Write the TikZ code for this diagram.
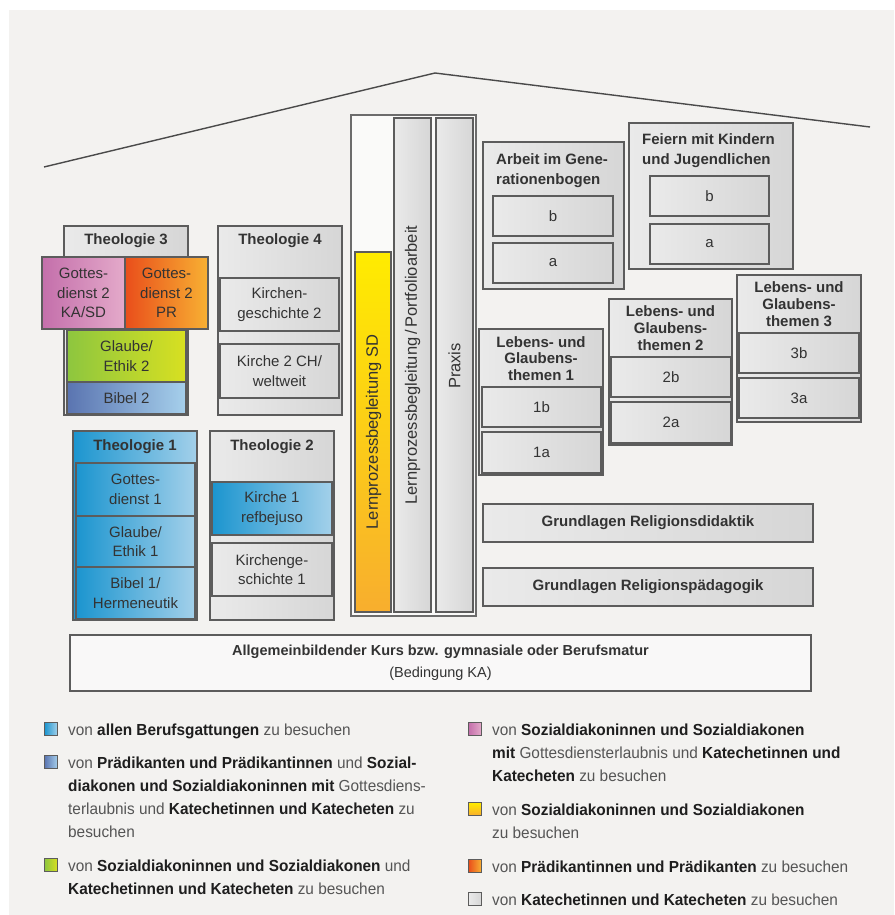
\documentclass[tikz,border=0pt]{standalone}
\usepackage{fontspec}
\setmainfont{Liberation Sans}
\newfontfamily\lgfam{Liberation Sans}[FakeStretch=0.96]
\definecolor{bg}{HTML}{F3F2F0}
\definecolor{bdr}{HTML}{5C5C5C}
\definecolor{txt}{HTML}{333333}
\definecolor{grayL}{HTML}{EAEAEA}
\definecolor{grayR}{HTML}{D6D6D6}
\definecolor{blueL}{HTML}{1B95CF}
\definecolor{blueR}{HTML}{A3D0EA}
\definecolor{bibL}{HTML}{5A74B0}
\definecolor{bibR}{HTML}{A6D0EC}
\definecolor{grnL}{HTML}{8DC63F}
\definecolor{grnR}{HTML}{D8E021}
\definecolor{pinkL}{HTML}{C46FAB}
\definecolor{pinkR}{HTML}{E4AACA}
\definecolor{orL}{HTML}{E94E1B}
\definecolor{orR}{HTML}{F8B133}
\definecolor{yeT}{HTML}{FFEC00}
\definecolor{yeB}{HTML}{F8AE2E}
\definecolor{lgdark}{HTML}{1E1E1E}
\definecolor{lggray}{HTML}{555555}
\newcommand\bxfont{\fontsize{15}{19.5}\selectfont}
\newcommand\ttlfont{\fontsize{15}{20}\selectfont\bfseries}
\newcommand\lugfont{\fontsize{15}{16.7}\selectfont\bfseries}
\newcommand\rotfont{\fontsize{16.5}{20}\selectfont}
\newcommand\lgfont{\lgfam\fontsize{16}{23.3}\selectfont}
\newcommand\bt[1]{{\color{lgdark}\bfseries #1}}
% box node from its corners: [options]{name}{x1}{y1}{x2}{y2}{text}
\newcommand\bx[7][]{%
  \pgfmathsetmacro\bxcx{(#3+#5)/2}\pgfmathsetmacro\bxcy{(#4+#6)/2}%
  \pgfmathsetmacro\bxw{#5-#3}\pgfmathsetmacro\bxh{#6-#4}%
  \node[#1, minimum width=\bxw pt, minimum height=\bxh pt] (#2) at (\bxcx,\bxcy) {#7};}
\begin{document}
\begin{tikzpicture}[x=1pt,y=-1pt,
  box/.style={draw=bdr, line width=1.3pt, inner sep=0pt, align=center, font=\bxfont, text=txt},
  gbox/.style={box, left color=grayL, right color=grayR},
  bbox/.style={box, left color=blueL, right color=blueR},
  ttl/.style={inner sep=0pt, align=center, font=\ttlfont, text=txt},
  lug/.style={inner sep=0pt, align=center, font=\lugfont, text=txt},
  rot/.style={inner sep=0pt, rotate=90, font=\rotfont, text=txt},
  lgsq/.style={draw=bdr, line width=1pt, minimum size=13pt, inner sep=0pt},
  lgtxt/.style={inner sep=0pt, anchor=base west, font=\lgfont, text=lggray}]
\useasboundingbox (0,0) rectangle (894,915);
\fill[white] (0,0) rectangle (894,915);
\fill[bg] (9,10) rectangle (894,915);
% roof
\coordinate (rl) at (44,167);
\coordinate (rp) at (435,73);
\coordinate (rr) at (870,127);
\draw[bdr!80!black, line width=1.4pt] (rl) -- (rp) -- (rr);
% Theologie 3
\bx[gbox]{th3}{64}{226}{188}{415}{}
\node[ttl] (th3t) at (126,241) {Theologie 3};
\bx[box, left color=pinkL, right color=pinkR]{gd2ka}{42}{257}{125}{329}{Gottes-\\dienst 2\\KA/SD}
\bx[box, left color=orL, right color=orR]{gd2pr}{125}{257}{208}{329}{Gottes-\\dienst 2\\PR}
\bx[box, left color=grnL, right color=grnR]{ge2}{67}{330}{186}{382}{Glaube/\\Ethik 2}
\bx[box, left color=bibL, right color=bibR]{bi2}{67}{382}{186}{414}{Bibel 2}
% Theologie 4
\bx[gbox]{th4}{218}{226}{342}{415}{}
\node[ttl] (th4t) at (280,241) {Theologie 4};
\bx[gbox]{kg2}{220}{278}{339}{331}{Kirchen-\\geschichte 2}
\bx[gbox]{k2ch}{220}{344}{339}{398}{Kirche 2 CH/\\weltweit}
% Theologie 1
\bx[bbox]{th1}{73}{431}{197}{620}{}
\node[ttl] (th1t) at (135,447) {Theologie 1};
\bx[bbox]{gd1}{76}{463}{195}{516}{Gottes-\\dienst 1}
\bx[bbox]{ge1}{76}{516}{195}{567}{Glaube/\\Ethik 1}
\bx[bbox]{bi1}{76}{567}{195}{619}{Bibel 1/\\Hermeneutik}
% Theologie 2
\bx[gbox]{th2}{210}{431}{334}{620}{}
\node[ttl] (th2t) at (272,447) {Theologie 2};
\bx[bbox]{k1}{212}{482}{332}{535}{Kirche 1\\refbejuso}
\bx[gbox]{kg1}{212}{543}{332}{596}{Kirchenge-\\schichte 1}
% columns
\bx[draw=bdr!90, line width=1.2pt, fill=white!60!bg, inner sep=0pt]{cols}{351}{115}{476}{616}{}
\bx[box, top color=yeT, bottom color=yeB]{lpsd}{355}{252}{391}{612}{}
\bx[gbox]{lpb}{394}{118}{431}{612}{}
\bx[gbox]{prx}{436}{118}{473}{612}{}
\node[rot] (lpsdt) at (373.5,432) {Lernprozessbegleitung SD};
\node[rot] (lpbt) at (412.5,365) {Lernprozessbegleitung\,/\,Portfolioarbeit};
\node[rot] (prxt) at (454.5,366) {Praxis};
% Arbeit im Generationenbogen
\bx[gbox]{aig}{483}{142}{624}{289}{}
\node[ttl, align=left, anchor=west] (aigt) at (496,171) {Arbeit im Gene-\\rationenbogen};
\bx[gbox]{aigb}{493}{196}{613}{236}{b}
\bx[gbox]{aiga}{493}{243}{613}{283}{a}
% Feiern
\bx[gbox]{fei}{629}{123}{793}{269}{}
\node[ttl, align=left, anchor=west] (feit) at (642,151) {Feiern mit Kindern\\und Jugendlichen};
\bx[gbox]{feib}{650}{176}{769}{216}{b}
\bx[gbox]{feia}{650}{224}{769}{264}{a}
% Lebens- und Glaubensthemen
\bx[gbox]{lg1}{479}{329}{603}{475}{}
\node[lug] (lg1t) at (541,358.5) {Lebens- und\\Glaubens-\\themen 1};
\bx[gbox]{lg1b}{482}{387}{601}{427}{1b}
\bx[gbox]{lg1a}{482}{432}{601}{473}{1a}
\bx[gbox]{lg2}{609}{299}{732}{445}{}
\node[lug] (lg2t) at (670.5,328) {Lebens- und\\Glaubens-\\themen 2};
\bx[gbox]{lg2b}{611}{357}{731}{397}{2b}
\bx[gbox]{lg2a}{611}{402}{731}{443}{2a}
\bx[gbox]{lg3}{737}{275}{861}{422}{}
\node[lug] (lg3t) at (799,304) {Lebens- und\\Glaubens-\\themen 3};
\bx[gbox]{lg3b}{739}{333}{859}{373}{3b}
\bx[gbox]{lg3a}{739}{378}{859}{418}{3a}
% Grundlagen
\bx[gbox, font=\ttlfont]{grd}{483}{504}{813}{542}{Grundlagen Religionsdidaktik}
\bx[gbox, font=\ttlfont]{grp}{483}{568}{813}{606}{Grundlagen Religionspädagogik}
% Allgemeinbildender Kurs
\bx[draw=bdr, line width=1.3pt, fill=white!50!bg, inner sep=0pt]{allg}{70}{635}{811}{691}{}
\node[inner sep=0pt, align=center, text=txt, font=\fontsize{14.5}{22}\selectfont] (allgt) at (440.5,663) {\textbf{Allgemeinbildender Kurs bzw. gymnasiale oder Berufsmatur}\\(Bedingung KA)};
% legend left
\node[lgsq, left color=blueL, right color=blueR] (s1) at (51,729) {};
\node[lgtxt] (t1) at (68,735) {\parbox[t]{380pt}{\raggedright von \bt{allen Berufsgattungen} zu besuchen}};
\node[lgsq, left color=bibL, right color=bibR] (s2) at (51,762) {};
\node[lgtxt] (t2) at (68,768) {\parbox[t]{380pt}{\raggedright von \bt{Prädikanten und Prädikantinnen} und \bt{Sozial-}\\\bt{diakonen und Sozialdiakoninnen mit} Gottesdiens-\\terlaubnis und \bt{Katechetinnen und Katecheten} zu\\besuchen}};
\node[lgsq, left color=grnL, right color=grnR] (s3) at (51,865) {};
\node[lgtxt] (t3) at (68,871) {\parbox[t]{380pt}{\raggedright von \bt{Sozialdiakoninnen und Sozialdiakonen} und\\\bt{Katechetinnen und Katecheten} zu besuchen}};
% legend right
\node[lgsq, left color=pinkL, right color=pinkR] (s4) at (475,729) {};
\node[lgtxt] (t4) at (492,735) {\parbox[t]{380pt}{\raggedright von \bt{Sozialdiakoninnen und Sozialdiakonen}\\\bt{mit} Gottesdiensterlaubnis und \bt{Katechetinnen und}\\\bt{Katecheten} zu besuchen}};
\node[lgsq, top color=yeT, bottom color=yeB] (s5) at (475,809) {};
\node[lgtxt] (t5) at (492,815) {\parbox[t]{380pt}{\raggedright von \bt{Sozialdiakoninnen und Sozialdiakonen}\\zu besuchen}};
\node[lgsq, left color=orL, right color=orR] (s6) at (475,866) {};
\node[lgtxt] (t6) at (492,872) {\parbox[t]{380pt}{\raggedright von \bt{Prädikantinnen und Prädikanten} zu besuchen}};
\node[lgsq, left color=grayL, right color=grayR] (s7) at (475,899) {};
\node[lgtxt] (t7) at (492,905) {\parbox[t]{380pt}{\raggedright von \bt{Katechetinnen und Katecheten} zu besuchen}};
\end{tikzpicture}
\end{document}
